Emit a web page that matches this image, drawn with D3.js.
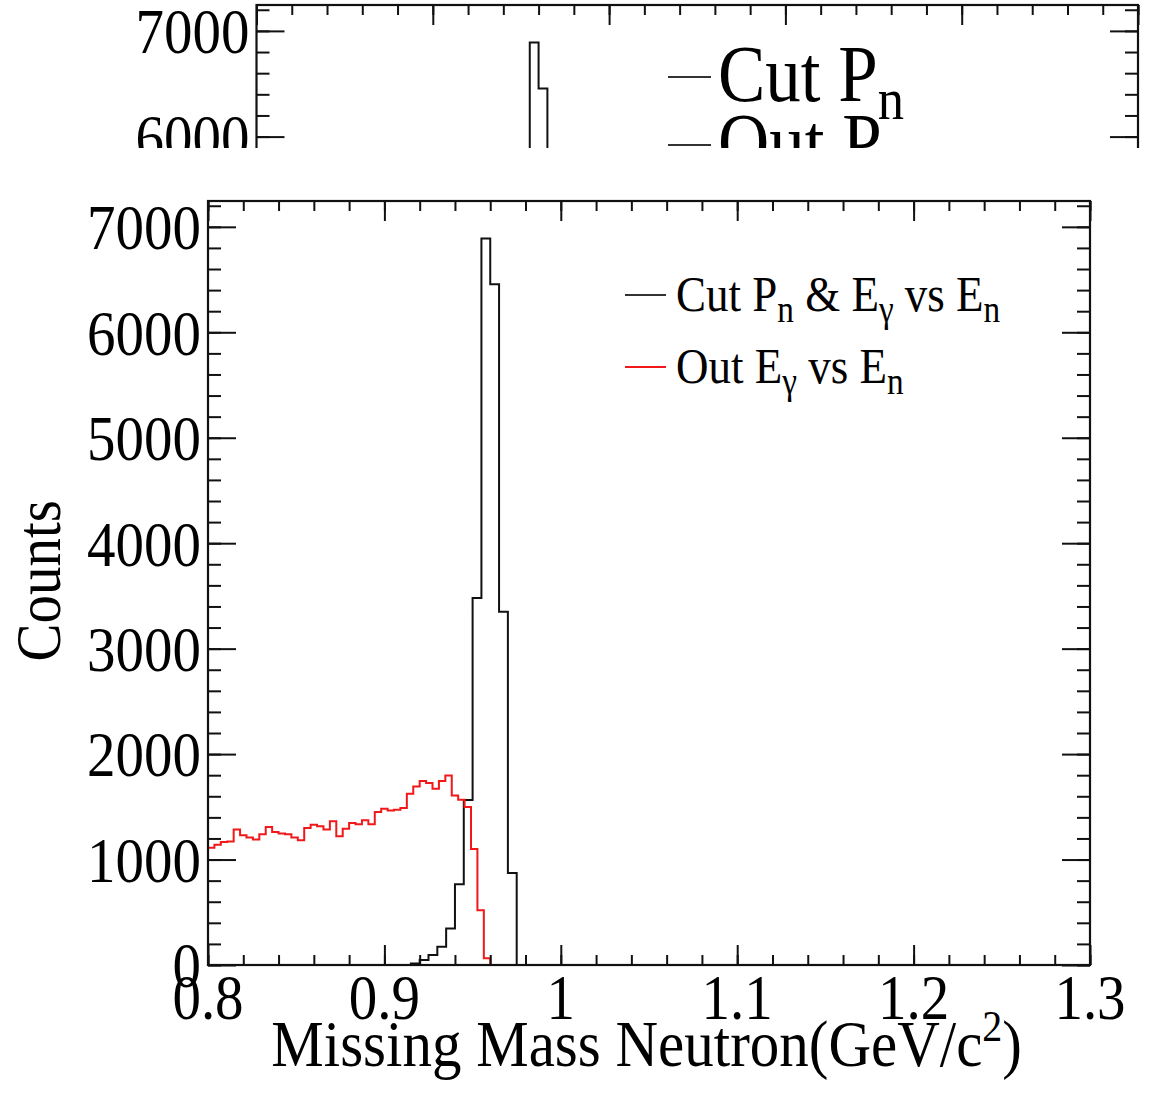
<!DOCTYPE html>
<html><head><meta charset="utf-8">
<script src="https://cdn.jsdelivr.net/npm/d3@7"></script>
<style>body{margin:0;background:#fff}svg text{font-family:"Liberation Serif","Times New Roman",serif;fill:#000}</style>
</head><body>
<svg id="c" width="1150" height="1102" xmlns="http://www.w3.org/2000/svg"></svg>
<script>
// ---------------- data ----------------
const xDomain = [0.8, 1.3];
const yMax = 7245;
const xMajorTicks = [0.8, 0.9, 1.0, 1.1, 1.2, 1.3];
const xTickLabels = ["0.8", "0.9", "1", "1.1", "1.2", "1.3"];
const yMajorTicks = [0, 1000, 2000, 3000, 4000, 5000, 6000, 7000];
const yTickLabels = ["0", "1000", "2000", "3000", "4000", "5000", "6000", "7000"];

// black histogram: "Cut Pn & Egamma vs En", 100 bins of 0.005 from 0.8
const blackStart = 0.8, blackBinWidth = 0.005;
const blackCounts = [
  0,0,0,0,0,0,0,0,0,0,
  0,0,0,0,0,0,0,0,0,0,
  0,0,0,15,47,95,173,347,766,1565,
  3480,6890,6455,3350,873,0,0,0,0,0,
  0,0,0,0,0,0,0,0,0,0,
  0,0,0,0,0,0,0,0,0,0,
  0,0,0,0,0,0,0,0,0,0,
  0,0,0,0,0,0,0,0,0,0,
  0,0,0,0,0,0,0,0,0,0,
  0,0,0,0,0,0,0,0,0,0
];

// red histogram: "Out Egamma vs En"
const redStart = 0.8, redBinWidth = 0.16 / 44;
const redCounts = [
  1113,1140,1167,1170,1284,1230,1208,1189,1239,1309,
  1262,1246,1239,1208,1183,1299,1331,1315,1284,1362,
  1220,1293,1347,1334,1372,1334,1451,1482,1466,1473,
  1490,1624,1693,1744,1725,1671,1744,1797,1608,1567,
  1498,1100,520,63,0,0,0,0,0
];

const legendMain = [
  {color: "#333", parts: [["Cut P",0],["n",1],[" & E",0],["γ",1],[" vs E",0],["n",1]]},
  {color: "#f01818", parts: [["Out E",0],["γ",1],[" vs E",0],["n",1]]}
];
const legendTop = [
  {color: "#333", parts: [["Cut P",0],["n",1]]},
  {color: "#333", parts: [["Out P",0],["n",1]]}
];

// ---------------- drawing ----------------
const STRETCH = 1.12;
const svg = d3.select("#c");
const range = (a, b, s) => d3.range(Math.round(a / s), Math.round(b / s) + 1).map(k => +(k * s).toFixed(6));

function histPoints(start, w, counts) {
  const pts = counts.map((c, i) => [start + i * w, c]);
  pts.push([start + counts.length * w, counts[counts.length - 1]]);
  return pts;
}

function drawPanel(g, box, opts) {
  const x = d3.scaleLinear().domain(xDomain).range([box.l, box.r]);
  const y = d3.scaleLinear().domain([0, yMax]).range([box.b, box.t]);
  const clipId = "clip" + opts.id;
  g.append("clipPath").attr("id", clipId).append("rect")
    .attr("x", box.l).attr("y", box.t).attr("width", box.r - box.l).attr("height", box.b - box.t);

  const line = d3.line().x(d => x(d[0])).y(d => y(d[1])).curve(d3.curveStepAfter);
  const hg = g.append("g").attr("clip-path", `url(#${clipId})`);
  hg.append("path").attr("d", line(histPoints(blackStart, blackBinWidth, blackCounts)))
    .attr("fill", "none").attr("stroke", "#111").attr("stroke-width", 2);
  hg.append("path").attr("d", line(histPoints(redStart, redBinWidth, redCounts)))
    .attr("fill", "none").attr("stroke", "#f01818").attr("stroke-width", 2);

  const xMinor = range(0.8, 1.3, 0.02);
  const yMinor = range(0, 7200, 200);
  const tickStyle = sel => { sel.select(".domain").remove(); sel.selectAll("line").attr("stroke", "#111").attr("stroke-width", 2); sel.selectAll("text").remove(); };

  g.append("g").attr("transform", `translate(0,${box.b})`).call(d3.axisBottom(x).tickValues(xMinor).tickSize(-10).tickSizeOuter(0)).call(tickStyle);
  g.append("g").attr("transform", `translate(0,${box.b})`).call(d3.axisBottom(x).tickValues(xMajorTicks).tickSize(-20).tickSizeOuter(0)).call(tickStyle);
  g.append("g").attr("transform", `translate(0,${box.t})`).call(d3.axisTop(x).tickValues(xMinor).tickSize(-10).tickSizeOuter(0)).call(tickStyle);
  g.append("g").attr("transform", `translate(0,${box.t})`).call(d3.axisTop(x).tickValues(xMajorTicks).tickSize(-20).tickSizeOuter(0)).call(tickStyle);
  g.append("g").attr("transform", `translate(${box.l},0)`).call(d3.axisLeft(y).tickValues(yMinor).tickSize(-13).tickSizeOuter(0)).call(tickStyle);
  g.append("g").attr("transform", `translate(${box.l},0)`).call(d3.axisLeft(y).tickValues(yMajorTicks).tickSize(-28).tickSizeOuter(0)).call(tickStyle);
  g.append("g").attr("transform", `translate(${box.r},0)`).call(d3.axisRight(y).tickValues(yMinor).tickSize(-13).tickSizeOuter(0)).call(tickStyle);
  g.append("g").attr("transform", `translate(${box.r},0)`).call(d3.axisRight(y).tickValues(yMajorTicks).tickSize(-28).tickSizeOuter(0)).call(tickStyle);

  g.append("rect").attr("x", box.l).attr("y", box.t).attr("width", box.r - box.l).attr("height", box.b - box.t)
    .attr("fill", "none").attr("stroke", "#111").attr("stroke-width", 2.2);

  g.append("g").selectAll("text").data(yMajorTicks).join("text")
    .attr("transform", d => `translate(${box.l - 7},${y(d)}) scale(1,${STRETCH})`).attr("dy", "0.35em")
    .attr("text-anchor", "end").attr("font-size", opts.tickFont)
    .text((d, i) => yTickLabels[i]);
  if (opts.xLabels) {
    g.append("g").selectAll("text").data(xMajorTicks).join("text")
      .attr("transform", d => `translate(${x(d)},${box.b + opts.xLabelDy}) scale(1,${STRETCH})`)
      .attr("text-anchor", "middle").attr("font-size", opts.tickFont)
      .text((d, i) => xTickLabels[i]);
  }

  opts.legend.forEach((e, i) => {
    const ly = opts.leg.y0 + i * opts.leg.dy;
    g.append("line").attr("x1", opts.leg.lx0).attr("x2", opts.leg.lx1).attr("y1", ly).attr("y2", ly)
      .attr("stroke", e.color).attr("stroke-width", 1.8);
    const t = g.append("text").attr("transform", `translate(${opts.leg.tx},${ly + opts.leg.base}) scale(1,${STRETCH})`)
      .attr("font-size", opts.leg.font);
    let prevSub = 0;
    e.parts.forEach(([s, sub]) => {
      const sp = t.append("tspan").text(s);
      const shift = (sub ? opts.leg.font * 0.22 : 0) - (prevSub ? opts.leg.font * 0.22 : 0);
      if (shift) sp.attr("dy", shift);
      if (sub) sp.attr("font-size", opts.leg.font * 0.74);
      prevSub = sub;
    });
  });
  return {x, y};
}

// top cropped panel
const topG = svg.append("g");
topG.append("clipPath").attr("id", "topcut").append("rect").attr("x", 0).attr("y", 0).attr("width", 1150).attr("height", 148);
const topInner = topG.append("g").attr("clip-path", "url(#topcut)");
drawPanel(topInner, {l: 256.5, r: 1138, t: 5, b: 5 + yMax * 0.1057}, {
  id: "top", tickFont: 57, xLabels: false, xLabelDy: 0, legend: legendTop,
  leg: {y0: 77, dy: 68, lx0: 668, lx1: 711, tx: 718, base: 24, font: 71}
});

// main panel
const mainG = svg.append("g");
drawPanel(mainG, {l: 208, r: 1090, t: 201, b: 965}, {
  id: "main", tickFont: 57, xLabels: true, xLabelDy: 54, legend: legendMain,
  leg: {y0: 295, dy: 72, lx0: 625, lx1: 666, tx: 676, base: 16, font: 45}
});

// axis titles
svg.append("text").attr("transform", `translate(1022,1066) scale(1,${STRETCH})`).attr("text-anchor", "end").attr("font-size", 59)
  .call(t => { t.append("tspan").text("Missing Mass Neutron(GeV/c"); t.append("tspan").attr("dy", -22).attr("font-size", 40).text("2"); t.append("tspan").attr("dy", 22).text(")"); });
svg.append("text").attr("transform", `translate(60,500) scale(${STRETCH},1) rotate(-90)`).attr("text-anchor", "end").attr("font-size", 57).text("Counts");
</script>
</body></html>
